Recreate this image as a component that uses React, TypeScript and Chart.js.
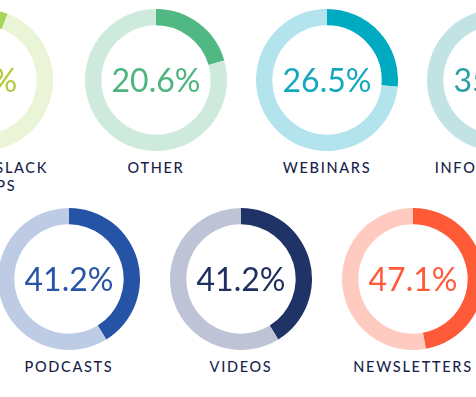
import React, { useEffect, useRef } from "react";
import { Chart, registerables } from "chart.js";

Chart.register(...registerables);

const categories = ["FORUMS/SLACK\nGROUPS", "OTHER", "WEBINARS", "INFOGRAPHICS", "PODCASTS", "VIDEOS", "NEWSLETTERS"];
const percents = [5.9, 20.6, 26.5, 35.3, 41.2, 41.2, 47.1];
const fgColors = ["#a8d45a", "#4fb883", "#00abc2", "#2aa0a6", "#2553a6", "#1f3366", "#ff5a38"];
const bgColors = ["#eaf4d6", "#cdeadc", "#b3e3ec", "#c2e3e4", "#bdcce4", "#bec4d6", "#ffcbc0"];
const textColors = ["#b3c93c", "#4cb47d", "#14a8bf", "#2aa0a6", "#2854a6", "#1e2f60", "#ff5a3a"];

// layout (centers of each ring)
const centers = [
  [-18, 80],
  [156, 80],
  [327, 80],
  [498, 80],
  [69, 279],
  [241, 279],
  [413, 279],
];
const R = 71;

const centerText = {
  id: "centerText",
  afterDraw(chart: any, _args: any, opts: any) {
    const { ctx } = chart;
    const meta = chart.getDatasetMeta(0);
    const arc = meta.data[0];
    if (!arc) return;
    ctx.save();
    ctx.font = "400 32px Lato";
    ctx.fillStyle = opts.color;
    ctx.textAlign = "center";
    ctx.textBaseline = "middle";
    ctx.fillText(opts.text, arc.x, arc.y + 2);
    ctx.restore();
  },
};

function Ring({ i }: { i: number }) {
  const ref = useRef<HTMLCanvasElement>(null);
  useEffect(() => {
    const v = percents[i];
    const chart = new Chart(ref.current!, {
      type: "doughnut",
      data: {
        labels: [categories[i], ""],
        datasets: [
          {
            data: [v, 100 - v],
            backgroundColor: [fgColors[i], bgColors[i]],
            borderWidth: 0,
          },
        ],
      },
      options: {
        responsive: false,
        animation: false,
        cutout: "77%",
        events: [],
        plugins: {
          legend: { display: false },
          tooltip: { enabled: false },
          centerText: { text: v.toFixed(1) + "%", color: textColors[i] },
        } as any,
      },
      plugins: [centerText],
    });
    return () => chart.destroy();
  }, [i]);
  const [cx, cy] = centers[i];
  return (
    <>
      <canvas
        ref={ref}
        width={R * 2}
        height={R * 2}
        style={{ position: "absolute", left: cx - R, top: cy - R, width: R * 2, height: R * 2 }}
      />
      <div
        style={{
          position: "absolute",
          left: cx - 110,
          width: 220,
          top: cy + 79,
          textAlign: "center",
          font: "500 14.5px Lato",
          letterSpacing: "1.7px",
          lineHeight: "18px",
          color: "#1a1f4c",
          whiteSpace: "pre",
        }}
      >
        {categories[i]}
      </div>
    </>
  );
}

export default function App() {
  return (
    <div
      style={{
        position: "fixed",
        left: 0,
        top: 0,
        width: 476,
        height: 397,
        overflow: "hidden",
        background: "#ffffff",
      }}
    >
      {categories.map((_, i) => (
        <Ring key={i} i={i} />
      ))}
    </div>
  );
}
